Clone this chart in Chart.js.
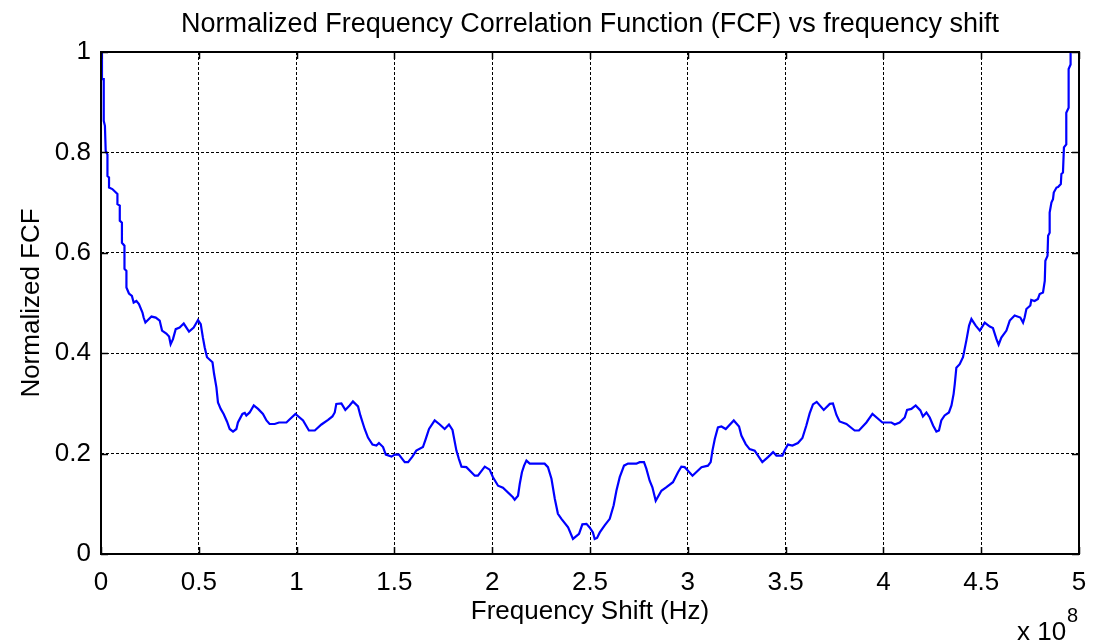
<!DOCTYPE html>
<html>
<head>
<meta charset="utf-8">
<title>Normalized FCF vs frequency shift</title>
<script src="https://cdn.jsdelivr.net/npm/chart.js@4.4.1/dist/chart.umd.min.js"></script>
<style>
  html, body { margin: 0; padding: 0; background: #fff; }
  #wrap { width: 1098px; height: 643px; }
</style>
</head>
<body>
<div id="wrap"><canvas id="fcfChart" width="1098" height="643"></canvas></div>
<script>
// frequency shift, in units of 1e8 Hz
const shiftE8 = [
  0.005, 0.005, 0.014, 0.014, 0.020, 0.024, 0.033, 0.033, 0.041, 0.041,
  0.058, 0.084, 0.084, 0.096, 0.096, 0.107, 0.107, 0.120, 0.120, 0.130,
  0.130, 0.143, 0.158, 0.167, 0.181, 0.194, 0.212, 0.218, 0.227, 0.245,
  0.258, 0.280, 0.300, 0.312, 0.334, 0.348, 0.356, 0.368, 0.382, 0.402,
  0.423, 0.450, 0.474, 0.496, 0.510, 0.521, 0.530, 0.542, 0.570, 0.578,
  0.590, 0.598, 0.612, 0.627, 0.644, 0.658, 0.675, 0.692, 0.700, 0.723,
  0.735, 0.743, 0.760, 0.781, 0.803, 0.828, 0.846, 0.862, 0.888, 0.910,
  0.948, 0.961, 0.994, 1.033, 1.063, 1.093, 1.127, 1.161, 1.183, 1.195,
  1.203, 1.229, 1.249, 1.271, 1.288, 1.314, 1.326, 1.348, 1.365, 1.388,
  1.408, 1.421, 1.442, 1.456, 1.485, 1.502, 1.523, 1.553, 1.570, 1.592,
  1.612, 1.646, 1.660, 1.677, 1.706, 1.732, 1.757, 1.779, 1.797, 1.817,
  1.830, 1.843, 1.868, 1.911, 1.927, 1.962, 1.987, 2.004, 2.030, 2.055,
  2.106, 2.115, 2.132, 2.141, 2.152, 2.163, 2.175, 2.192, 2.268, 2.285,
  2.303, 2.320, 2.336, 2.354, 2.388, 2.413, 2.444, 2.461, 2.482, 2.498,
  2.515, 2.524, 2.536, 2.550, 2.575, 2.601, 2.621, 2.635, 2.652, 2.674,
  2.694, 2.737, 2.754, 2.776, 2.788, 2.805, 2.819, 2.836, 2.865, 2.891,
  2.924, 2.950, 2.967, 2.984, 3.001, 3.024, 3.070, 3.103, 3.117, 3.126,
  3.138, 3.154, 3.172, 3.194, 3.235, 3.262, 3.274, 3.296, 3.316, 3.342,
  3.364, 3.381, 3.410, 3.436, 3.453, 3.484, 3.495, 3.512, 3.535, 3.563,
  3.586, 3.606, 3.623, 3.640, 3.659, 3.695, 3.726, 3.742, 3.760, 3.776,
  3.811, 3.853, 3.875, 3.913, 3.944, 3.995, 4.041, 4.058, 4.083, 4.109,
  4.121, 4.143, 4.165, 4.189, 4.202, 4.220, 4.237, 4.254, 4.271, 4.284,
  4.296, 4.313, 4.335, 4.348, 4.359, 4.365, 4.373, 4.390, 4.407, 4.424,
  4.438, 4.450, 4.472, 4.493, 4.518, 4.544, 4.560, 4.578, 4.589, 4.603,
  4.629, 4.646, 4.671, 4.700, 4.714, 4.722, 4.731, 4.751, 4.756, 4.773,
  4.790, 4.799, 4.816, 4.825, 4.828, 4.839, 4.842, 4.850, 4.850, 4.859,
  4.867, 4.871, 4.885, 4.893, 4.907, 4.910, 4.918, 4.923, 4.935, 4.935,
  4.947, 4.947, 4.957, 4.957
];

// normalized frequency correlation function
const fcf = [
  1.000, 0.946, 0.946, 0.863, 0.853, 0.803, 0.796, 0.753, 0.750, 0.730,
  0.727, 0.717, 0.697, 0.694, 0.664, 0.660, 0.620, 0.614, 0.568, 0.564,
  0.531, 0.519, 0.514, 0.501, 0.504, 0.498, 0.481, 0.471, 0.461, 0.468,
  0.473, 0.471, 0.465, 0.445, 0.439, 0.433, 0.418, 0.428, 0.448, 0.451,
  0.459, 0.443, 0.451, 0.466, 0.458, 0.431, 0.412, 0.392, 0.382, 0.359,
  0.332, 0.302, 0.289, 0.279, 0.264, 0.249, 0.244, 0.249, 0.262, 0.279,
  0.281, 0.276, 0.282, 0.296, 0.289, 0.279, 0.266, 0.259, 0.259, 0.262,
  0.262, 0.267, 0.279, 0.266, 0.246, 0.246, 0.258, 0.267, 0.274, 0.282,
  0.299, 0.300, 0.287, 0.296, 0.304, 0.294, 0.276, 0.249, 0.232, 0.218,
  0.216, 0.221, 0.213, 0.198, 0.194, 0.198, 0.198, 0.183, 0.183, 0.194,
  0.206, 0.213, 0.229, 0.249, 0.266, 0.258, 0.249, 0.258, 0.247, 0.206,
  0.189, 0.174, 0.173, 0.156, 0.156, 0.174, 0.168, 0.153, 0.136, 0.132,
  0.113, 0.108, 0.116, 0.140, 0.163, 0.176, 0.186, 0.180, 0.180, 0.173,
  0.150, 0.110, 0.080, 0.070, 0.053, 0.030, 0.040, 0.059, 0.060, 0.053,
  0.043, 0.030, 0.032, 0.043, 0.057, 0.070, 0.097, 0.126, 0.153, 0.176,
  0.180, 0.180, 0.183, 0.183, 0.170, 0.146, 0.133, 0.106, 0.126, 0.133,
  0.143, 0.163, 0.174, 0.173, 0.166, 0.156, 0.173, 0.176, 0.183, 0.206,
  0.229, 0.252, 0.254, 0.249, 0.266, 0.254, 0.236, 0.219, 0.209, 0.206,
  0.193, 0.183, 0.193, 0.203, 0.196, 0.196, 0.206, 0.218, 0.216, 0.221,
  0.231, 0.256, 0.280, 0.298, 0.303, 0.287, 0.299, 0.300, 0.277, 0.264,
  0.259, 0.246, 0.246, 0.262, 0.279, 0.262, 0.262, 0.258, 0.262, 0.272,
  0.287, 0.289, 0.296, 0.286, 0.274, 0.282, 0.272, 0.256, 0.244, 0.246,
  0.266, 0.276, 0.282, 0.296, 0.319, 0.339, 0.371, 0.378, 0.392, 0.425,
  0.455, 0.468, 0.455, 0.445, 0.461, 0.453, 0.450, 0.428, 0.417, 0.431,
  0.445, 0.465, 0.475, 0.471, 0.461, 0.471, 0.488, 0.495, 0.506, 0.504,
  0.508, 0.518, 0.521, 0.544, 0.584, 0.594, 0.634, 0.640, 0.680, 0.700,
  0.707, 0.720, 0.730, 0.731, 0.737, 0.757, 0.760, 0.810, 0.816, 0.879,
  0.889, 0.966, 0.975, 1.000
];

const xTicks = [0, 0.5, 1, 1.5, 2, 2.5, 3, 3.5, 4, 4.5, 5];
const yTicks = [0, 0.2, 0.4, 0.6, 0.8, 1];

const titleText = 'Normalized Frequency Correlation Function (FCF) vs frequency shift';
const xLabel = 'Frequency Shift (Hz)';
const yLabel = 'Normalized FCF';

const FONT = '"Liberation Sans", Arial, Helvetica, sans-serif';

const points = shiftE8.map((s, i) => ({ x: s, y: fcf[i] }));

// tick labels like "0", "0.5", "1" (no forced trailing zero)
const tickText = v => String(+v.toFixed(2));

// box, inward tick marks, titles and the x10^8 multiplier
const frame = {
  id: 'frame',
  afterDraw(chart) {
    const { ctx, chartArea: a, scales: { x, y } } = chart;
    const line = (x1, y1, x2, y2) => {
      ctx.beginPath(); ctx.moveTo(x1, y1); ctx.lineTo(x2, y2); ctx.stroke();
    };
    ctx.save();
    ctx.strokeStyle = '#000';
    ctx.lineWidth = 1.5;
    xTicks.forEach(v => {
      const px = Math.round(x.getPixelForValue(v)) + 0.5;
      line(px, a.bottom, px, a.bottom - 7);
      line(px, a.top, px, a.top + 7);
    });
    yTicks.forEach(v => {
      const py = Math.round(y.getPixelForValue(v)) + 0.5;
      line(a.left, py, a.left + 7, py);
      line(a.right, py, a.right - 7, py);
    });
    ctx.lineWidth = 2;
    ctx.strokeRect(a.left, a.top, a.right - a.left, a.bottom - a.top);

    const cx = (a.left + a.right) / 2;
    ctx.fillStyle = '#000';
    ctx.textAlign = 'center';
    ctx.textBaseline = 'alphabetic';
    ctx.font = '27px ' + FONT;
    ctx.fillText(titleText, cx, 32);
    ctx.font = '26px ' + FONT;
    ctx.fillText(xLabel, cx, 619);
    ctx.save();
    ctx.translate(39, (a.top + a.bottom) / 2);
    ctx.rotate(-Math.PI / 2);
    ctx.fillText(yLabel, 0, 0);
    ctx.restore();

    ctx.textAlign = 'left';
    ctx.fillText('x 10', 1017, 640);
    ctx.font = '20px ' + FONT;
    ctx.fillText('8', 1067, 622);
    ctx.restore();
  }
};

new Chart(document.getElementById('fcfChart'), {
  type: 'line',
  data: {
    datasets: [{
      data: points,
      borderColor: '#0000ff',
      borderWidth: 2.2,
      pointRadius: 0,
      tension: 0,
      fill: false
    }]
  },
  options: {
    responsive: false,
    animation: false,
    events: [],
    layout: { padding: { top: 52, right: 19, left: 0, bottom: 0 } },
    plugins: {
      legend: { display: false },
      tooltip: { enabled: false }
    },
    scales: {
      x: {
        type: 'linear',
        min: 0,
        max: 5,
        afterBuildTicks: s => { s.ticks = xTicks.map(v => ({ value: v })); },
        afterFit: s => { s.height = 89; s.paddingLeft = 0; s.paddingRight = 0; },
        grid: { color: '#000', lineWidth: 1, drawTicks: false },
        border: { display: false, dash: [3, 2] },
        ticks: {
          color: '#000',
          padding: 13,
          maxRotation: 0,
          autoSkip: false,
          callback: tickText,
          font: { family: FONT, size: 26 }
        }
      },
      y: {
        type: 'linear',
        min: 0,
        max: 1,
        afterBuildTicks: s => { s.ticks = yTicks.map(v => ({ value: v })); },
        afterFit: s => { s.width = 101; s.paddingTop = 0; s.paddingBottom = 0; },
        grid: { color: '#000', lineWidth: 1, drawTicks: false },
        border: { display: false, dash: [3, 2] },
        ticks: {
          color: '#000',
          padding: 10,
          autoSkip: false,
          callback: tickText,
          font: { family: FONT, size: 26 }
        }
      }
    }
  },
  plugins: [frame]
});
</script>
</body>
</html>
